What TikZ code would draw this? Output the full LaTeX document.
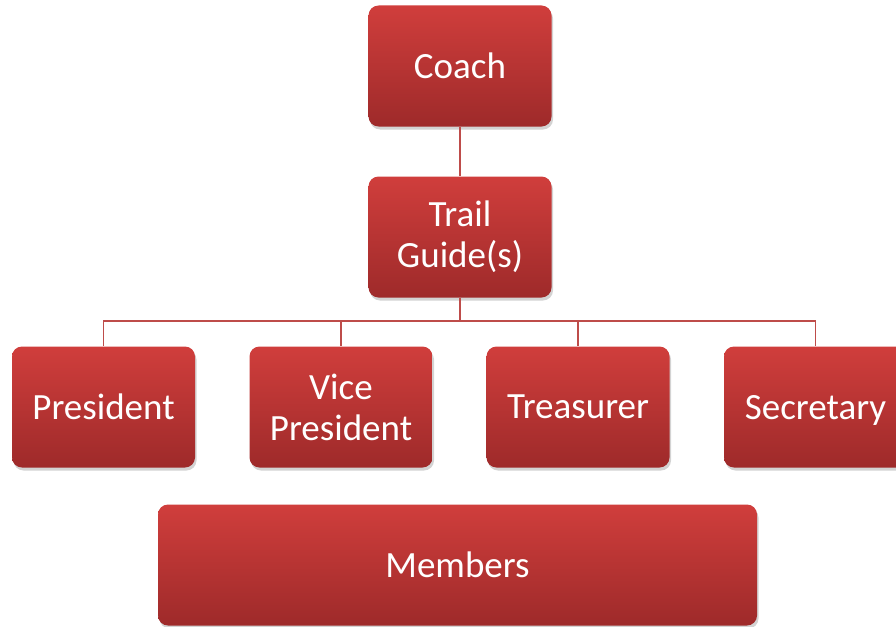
\documentclass[tikz,border=0pt]{standalone}
\usepackage{fontspec}
\setmainfont{Carlito}
\usetikzlibrary{shadows}

\begin{document}
\begin{tikzpicture}[x=1pt,y=-1pt,
	rolebox/.style={rounded corners=10pt, top color=boxtop, bottom color=boxbottom,
		draw=none, text=white, align=center, minimum width=183pt, minimum height=121pt,
		font=\fontsize{37}{41}\selectfont, inner sep=0pt,
		drop shadow={shadow xshift=1.5pt, shadow yshift=-3pt, opacity=0.35}},
	link/.style={draw=linkred, line width=1.6pt}]
			% Define colors for the boxes
			\definecolor{boxtop}{RGB}{208,62,60}
			\definecolor{boxbottom}{RGB}{158,42,42}
			\definecolor{linkred}{RGB}{190,76,74}
			
			% Fix the picture size
			\useasboundingbox (0,0) rectangle (896,626);
			
			% Draw the top of the chart
			\node[rolebox] (coach) at (460,66) {Coach};
			\node[rolebox] (guide) at (460,237) {Trail\\Guide(s)};
			
			% Draw the officers
			\node[rolebox] (pres) at (103.5,407) {President};
			\node[rolebox] (vice) at (341,407) {Vice\\President};
			\node[rolebox] (treas) at (578,407) {Treasurer};
			\node[rolebox, text depth=0pt] (secr) at (815.5,407) {Secretary};
			
			% Draw the members
			\node[rolebox, minimum width=599pt] (members) at (457.5,565) {Members};
			
			% Connect the boxes
			\coordinate (fork) at (460,321);
			\draw[link] (coach) -- (guide);
			\draw[link] (guide.south) -- (fork);
			\foreach \who in {pres, vice, treas, secr}
				\draw[link] (fork) -| (\who.north);
		\end{tikzpicture}
\end{document}
